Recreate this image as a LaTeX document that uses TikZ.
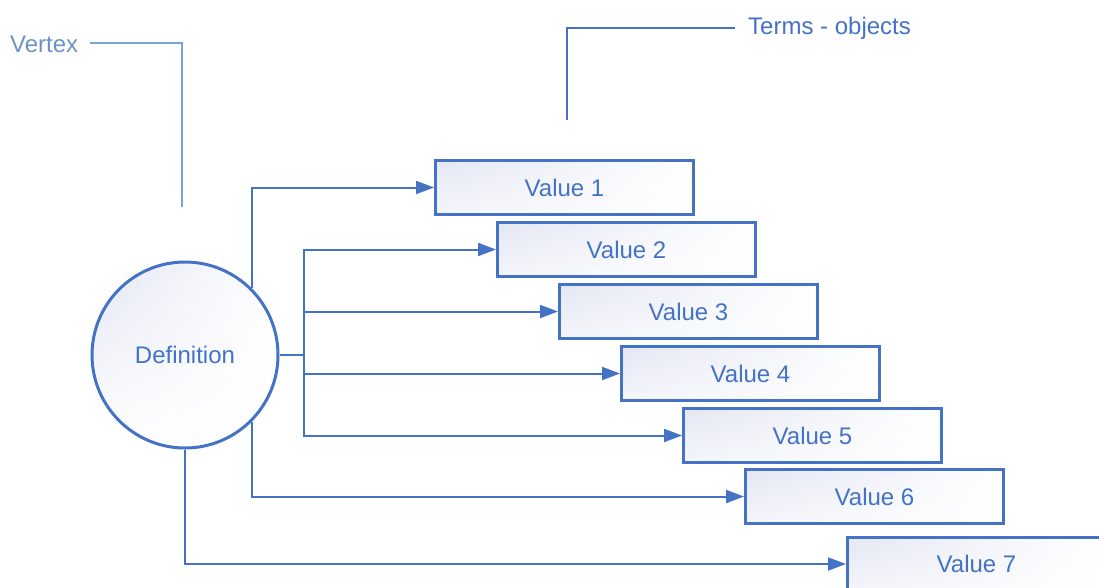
\documentclass[tikz,border=0pt]{standalone}
\usepackage{fontspec}
\setmainfont{Liberation Sans}
\usetikzlibrary{arrows.meta, shadings}
\definecolor{mainblue}{HTML}{4472C4}
\definecolor{paleblue}{HTML}{7BA3D6}
\definecolor{vtxblue}{HTML}{6A93C6}
\definecolor{lavender}{HTML}{E4E7F4}
\tikzset{
    valbox/.style={draw=mainblue, line width=3pt, minimum width=258pt, minimum height=54pt,
        inner sep=0pt, upper left=lavender, upper right=white, lower left=white!60!lavender,
        lower right=white, text=mainblue, anchor=west},
    link/.style={draw=mainblue, line width=2pt},
    arr/.style={link, -{Triangle[length=18pt, width=13pt]}},
}
\begin{document}
\begin{tikzpicture}[x=1pt, y=-1pt, font=\fontsize{24}{28}\selectfont]
        \useasboundingbox (0,0) rectangle (1099,587);
        \clip (0,0) rectangle (1099,587);
        % centre
        \node[circle, draw=mainblue, line width=3pt, minimum size=186pt, inner sep=0pt,
            upper left=lavender, upper right=white, lower left=white, lower right=white,
            text=mainblue] (def) at (185, 355) {Definition};
        % values
        \node[valbox] (val1) at (434, 187.5) {Value 1};
        \node[valbox] (val2) at (496, 249.5) {Value 2};
        \node[valbox] (val3) at (558, 311.5) {Value 3};
        \node[valbox] (val4) at (620, 373.5) {Value 4};
        \node[valbox] (val5) at (682, 435.5) {Value 5};
        \node[valbox] (val6) at (744, 496.5) {Value 6};
        \node[valbox] (val7) at (846, 564) {Value 7};
        % connectors
        \coordinate (fork) at (304, 355);
        \draw[link] (def.east) -- (fork);
        \draw[arr] (def.45) |- (val1.west);
        \draw[arr] (fork) |- (val2.west);
        \draw[arr] (fork) |- (val3.west);
        \draw[arr] (fork) |- (val4.west);
        \draw[arr] (fork) |- (val5.west);
        \draw[arr] (def.-45) |- (val6.west);
        \draw[arr] (def.south) |- (val7.west);
        % callouts
        \node[text=vtxblue, anchor=west, inner sep=0pt] (vertex) at (10, 44) {Vertex};
        \coordinate (vtxend) at (182, 207);
        \draw[paleblue, line width=2pt] (vertex.east) ++(12,-1) -| (vtxend);
        \node[text=mainblue, anchor=west, inner sep=0pt] (terms) at (748, 28) {Terms - objects};
        \coordinate (trmend) at (567, 120);
        \draw[link] (terms.west) ++(-13,0) -| (trmend);
    \end{tikzpicture}
\end{document}
